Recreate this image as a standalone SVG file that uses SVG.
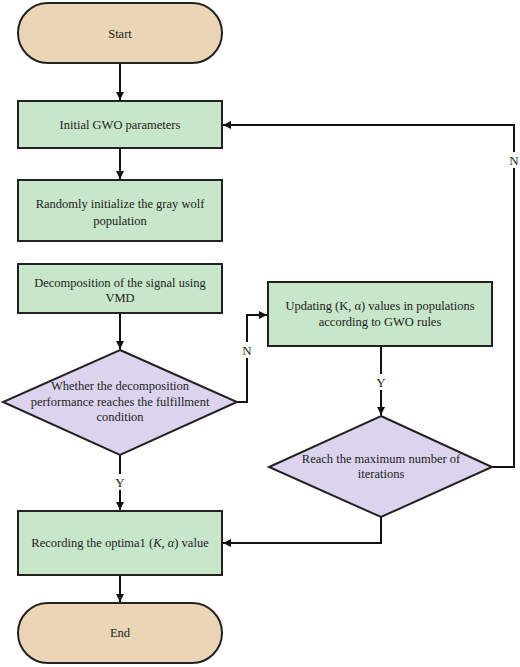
<svg xmlns="http://www.w3.org/2000/svg" width="520" height="667" viewBox="0 0 520 667">
<style>
.term{fill:#EAD6B6;stroke:#222;stroke-width:2}
.proc{fill:#C8E6C9;stroke:#222;stroke-width:2}
.dec{fill:#DCD4EE;stroke:#222;stroke-width:2}
.t{font-family:"Liberation Serif","Times New Roman",serif;font-size:12.5px;fill:#222;text-anchor:middle}
.lbl{font-family:"Liberation Serif","Times New Roman",serif;font-size:13px;fill:#222;text-anchor:middle}
.c{fill:none;stroke:#111;stroke-width:2}
</style>
<defs>
<marker id="ah" markerWidth="10" markerHeight="10" refX="9" refY="5" orient="auto" markerUnits="userSpaceOnUse">
<path d="M1,1 L9,5 L1,9 Z" fill="#111"/>
</marker>
</defs>
<rect width="520" height="667" fill="#fff"/>
<g id="connectors">
<path class="c" d="M120,63 V100" marker-end="url(#ah)"/>
<path class="c" d="M120,148 V179" marker-end="url(#ah)"/>
<path class="c" d="M120,313 V349" marker-end="url(#ah)"/>
<path class="c" d="M237,402 H247 V315 H267" marker-end="url(#ah)"/>
<path class="c" d="M381,346 V415" marker-end="url(#ah)"/>
<path class="c" d="M492,467 H514 V125 H223" marker-end="url(#ah)"/>
<path class="c" d="M381,517 V543 H223" marker-end="url(#ah)"/>
<path class="c" d="M120,455 V510" marker-end="url(#ah)"/>
<path class="c" d="M120,575 V602" marker-end="url(#ah)"/>
<rect x="240" y="342" width="14" height="16" fill="#fff"/>
<text class="lbl" x="247" y="355">N</text>
<rect x="507" y="152" width="14" height="16" fill="#fff"/>
<text class="lbl" x="514" y="165">N</text>
<rect x="374" y="374" width="14" height="16" fill="#fff"/>
<text class="lbl" x="381" y="387">Y</text>
<rect x="113" y="474" width="14" height="16" fill="#fff"/>
<text class="lbl" x="120" y="487">Y</text>
</g>
<g id="start">
<rect class="term" x="18" y="3" width="204" height="60" rx="30" ry="30"/>
<text class="t" x="120" y="38">Start</text>
</g>
<g id="init">
<rect class="proc" x="18" y="101" width="204" height="47"/>
<text class="t" x="120" y="129">Initial GWO parameters</text>
</g>
<g id="random">
<rect class="proc" x="18" y="180" width="204" height="61"/>
<text class="t" x="120" y="208">Randomly initialize the gray wolf</text>
<text class="t" x="120" y="225">population</text>
</g>
<g id="vmd">
<rect class="proc" x="18" y="264" width="204" height="49"/>
<text class="t" x="120" y="287">Decomposition of the signal using</text>
<text class="t" x="120" y="302">VMD</text>
</g>
<g id="cond">
<polygon class="dec" points="120,350 237,402 120,455 3,402"/>
<text class="t" x="120" y="390">Whether the decomposition</text>
<text class="t" x="120" y="406">performance reaches the fulfillment</text>
<text class="t" x="120" y="421">condition</text>
</g>
<g id="update">
<rect class="proc" x="268" y="282" width="224" height="64"/>
<text class="t" x="380" y="310">Updating (K, α) values in populations</text>
<text class="t" x="380" y="326">according to GWO rules</text>
</g>
<g id="maxiter">
<polygon class="dec" points="381,416 492,467 381,517 269,467"/>
<text class="t" x="381" y="463">Reach the maximum number of</text>
<text class="t" x="381" y="478">iterations</text>
</g>
<g id="record">
<rect class="proc" x="18" y="511" width="204" height="64"/>
<text class="t" x="120" y="547">Recording the optima1 (<tspan font-style="italic">K</tspan>, <tspan font-style="italic">α</tspan>) value</text>
</g>
<g id="end">
<rect class="term" x="18" y="603" width="204" height="60" rx="30" ry="30"/>
<text class="t" x="120" y="637">End</text>
</g>
</svg>
